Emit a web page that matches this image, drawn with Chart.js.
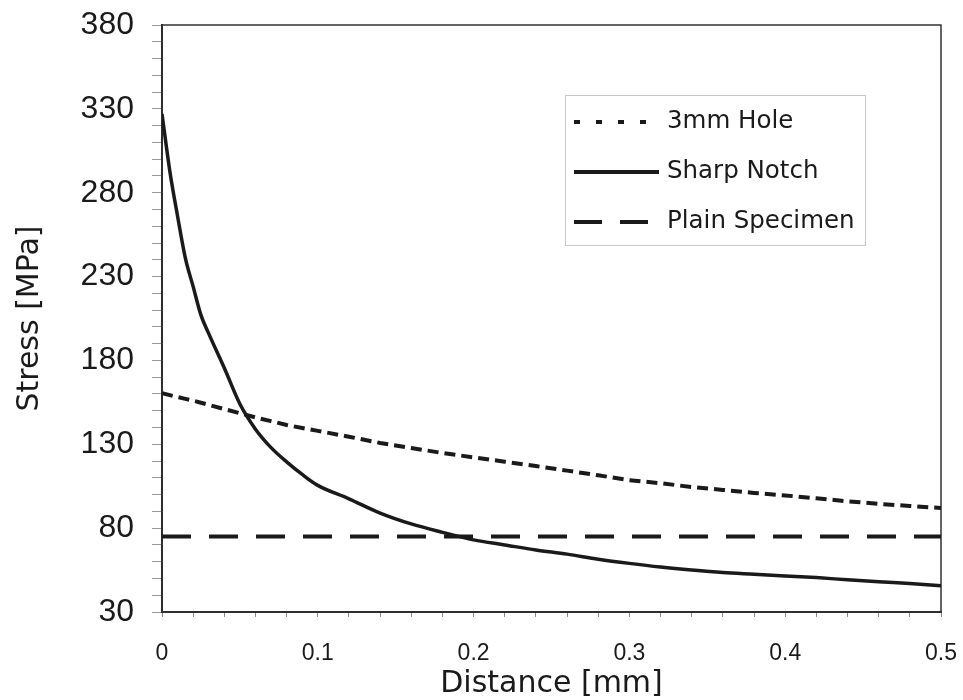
<!DOCTYPE html>
<html>
<head>
<meta charset="utf-8">
<title>Stress vs Distance</title>
<script src="https://cdn.jsdelivr.net/npm/chart.js@4.4.0/dist/chart.umd.min.js"></script>
<style>
  html, body { margin: 0; padding: 0; background: #fff; }
  #wrap { width: 963px; height: 700px; position: relative; }
</style>
</head>
<body>
<div id="wrap"><canvas id="chart" width="963" height="700"></canvas></div>
<script>
// distance from notch root [mm]
const distances = [0, 0.005, 0.01, 0.015, 0.02, 0.025, 0.03, 0.04, 0.05, 0.06, 0.07, 0.08, 0.09,
  0.1, 0.12, 0.14, 0.16, 0.18, 0.2, 0.22, 0.24, 0.26, 0.28, 0.3, 0.32, 0.34, 0.36, 0.38,
  0.4, 0.42, 0.44, 0.46, 0.48, 0.5];

// stress [MPa]
const holeStress = [160.5, 159.3, 158.2, 157.1, 156, 154.8, 153.5, 151, 148.5, 146, 143.8, 141.5, 139.7,
  138, 134.5, 130.8, 127.8, 124.8, 122.2, 119.6, 117, 114.3, 111.5, 108.6, 106.8, 104.5, 102.8, 101,
  99.5, 97.8, 96, 94.5, 93.2, 92];
const notchStress = [327, 293, 266, 241, 224, 207, 196, 175.5, 154, 139, 128, 119.5, 112,
  105.5, 97.5, 89, 82.5, 77.5, 73, 70, 67, 64.5, 61.5, 59, 56.8, 55, 53.5, 52.5,
  51.5, 50.5, 49.2, 48, 47, 45.7];
const plainStress = [75, 75, 75, 75, 75, 75, 75, 75, 75, 75, 75, 75, 75,
  75, 75, 75, 75, 75, 75, 75, 75, 75, 75, 75, 75, 75, 75, 75,
  75, 75, 75, 75, 75, 75];

const seriesNames = ["3mm Hole", "Sharp Notch", "Plain Specimen"];

const yTickLabels = ["30", "80", "130", "180", "230", "280", "330", "380"];
const xTickLabels = ["0", "0.1", "0.2", "0.3", "0.4", "0.5"];

const ink = "#1a1a1a";

const toPoints = (values) => distances.map((d, i) => ({ x: d, y: values[i] }));

// box round the plot area
const frame = {
  id: "frame",
  beforeDatasetsDraw(chart) {
    const { ctx, chartArea: a } = chart;
    ctx.save();
    ctx.strokeStyle = "#333";
    ctx.lineWidth = 1.5;
    ctx.strokeRect(a.left, a.top, a.right - a.left, a.bottom - a.top);
    ctx.restore();
  }
};

// legend drawn inside the plot, like the original
const boxLegend = {
  id: "boxLegend",
  afterDraw(chart) {
    const { ctx } = chart;
    const x0 = 565, y0 = 95, w = 300, h = 150;
    const sampleDash = [[6, 16], [], [28, 18]];
    ctx.save();
    ctx.strokeStyle = "#c8c8c8";
    ctx.lineWidth = 1;
    ctx.strokeRect(x0 + 0.5, y0 + 0.5, w, h);
    ctx.font = "24.5px 'DejaVu Sans'";
    ctx.textBaseline = "middle";
    ctx.fillStyle = ink;
    chart.data.datasets.forEach((ds, i) => {
      const y = y0 + 27 + i * 50;
      ctx.beginPath();
      ctx.setLineDash(sampleDash[i]);
      ctx.lineWidth = 4;
      ctx.strokeStyle = ink;
      ctx.moveTo(574, y);
      ctx.lineTo(659, y);
      ctx.stroke();
      ctx.setLineDash([]);
      ctx.fillText(ds.label, 667, y);
    });
    ctx.restore();
  }
};

new Chart(document.getElementById("chart"), {
  type: "line",
  data: {
    datasets: [
      {
        label: seriesNames[0],
        data: toPoints(holeStress),
        borderColor: ink,
        borderWidth: 4,
        borderDash: [11, 6],
        pointRadius: 0,
        tension: 0
      },
      {
        label: seriesNames[1],
        data: toPoints(notchStress),
        borderColor: ink,
        borderWidth: 3.5,
        pointRadius: 0,
        cubicInterpolationMode: "monotone"
      },
      {
        label: seriesNames[2],
        data: toPoints(plainStress),
        borderColor: ink,
        borderWidth: 4,
        borderDash: [29, 18],
        pointRadius: 0,
        tension: 0
      }
    ]
  },
  options: {
    responsive: false,
    animation: false,
    layout: { padding: { top: 25, right: 22, left: 0, bottom: 0 } },
    plugins: {
      legend: { display: false },
      tooltip: { enabled: false }
    },
    scales: {
      x: {
        type: "linear",
        min: 0,
        max: 0.5,
        afterFit: (scale) => {
          scale.height = 88;
          scale.paddingLeft = 0;
          scale.paddingRight = 0;
        },
        afterBuildTicks: (scale) => {
          scale.ticks = Array.from({ length: 26 }, (_, i) => ({ value: i * 0.02 }));
        },
        ticks: {
          autoSkip: false,
          maxRotation: 0,
          padding: 23,
          color: ink,
          font: { family: "'Liberation Sans', Arial", size: 23 },
          callback: (value, index) => (index % 5 === 0 ? xTickLabels[index / 5] : "")
        },
        grid: {
          drawOnChartArea: false,
          tickLength: 5,
          tickColor: "#888",
          tickWidth: 1
        },
        border: { color: "#222", width: 2 },
        title: {
          display: true,
          text: "Distance [mm]",
          color: ink,
          font: { family: "'DejaVu Sans'", size: 30 },
          padding: { top: 0, bottom: -2 }
        }
      },
      y: {
        type: "linear",
        min: 30,
        max: 380,
        afterFit: (scale) => {
          scale.width = 162;
          scale.paddingTop = 0;
          scale.paddingBottom = 0;
        },
        afterBuildTicks: (scale) => {
          scale.ticks = Array.from({ length: 36 }, (_, i) => ({ value: 30 + i * 10 }));
        },
        ticks: {
          autoSkip: false,
          padding: 18,
          color: ink,
          font: { family: "'Liberation Sans', Arial", size: 32 },
          callback: (value, index) => (index % 5 === 0 ? yTickLabels[index / 5] : "")
        },
        grid: {
          drawOnChartArea: false,
          tickLength: 10,
          tickColor: "#999",
          tickWidth: 1
        },
        border: { color: "#222", width: 2 },
        title: {
          display: true,
          text: "Stress [MPa]",
          color: ink,
          font: { family: "'DejaVu Sans'", size: 30 },
          padding: { top: 12, bottom: 0 }
        }
      }
    }
  },
  plugins: [frame, boxLegend]
});
</script>
</body>
</html>
